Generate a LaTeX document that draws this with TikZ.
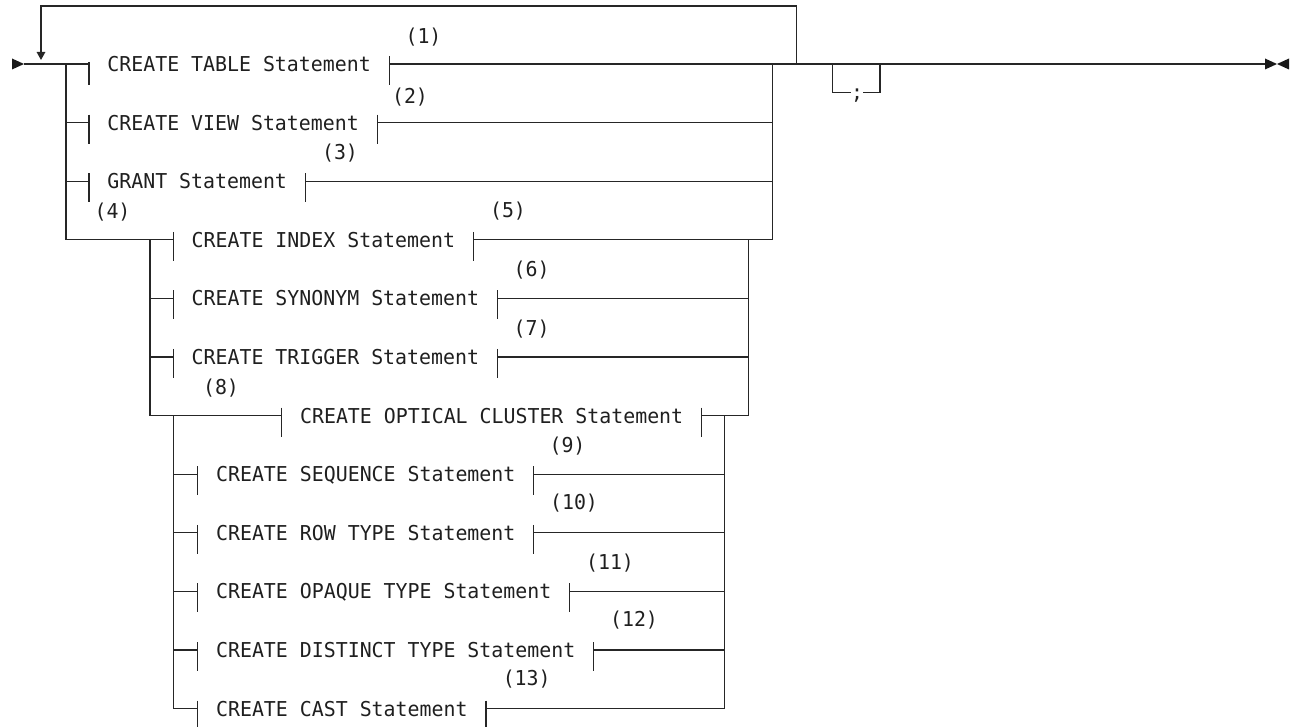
\documentclass[tikz,border=0pt]{standalone}
\usepackage{fontspec}
\newfontfamily\diagmono[FakeStretch=0.97]{DejaVu Sans Mono}
\usetikzlibrary{arrows.meta}
\tikzset{
  rail/.style={draw=black!85, line width=1.3pt},
  frag/.style={font=\diagmono\fontsize{20.5}{22}\selectfont, text=black!88, inner xsep=18.2pt, inner ysep=0pt,
               text height=14.9pt, text depth=0pt, anchor=west},
  note/.style={font=\diagmono\fontsize{20.5}{22}\selectfont, text=black!88, inner sep=0pt,
               text height=14.9pt, text depth=0pt, anchor=center},
  tick/.style={rail},
  tipfill/.style={fill=black!90}
}
\begin{document}
\begin{tikzpicture}[x=1pt,y=-1pt]
\useasboundingbox (0,0) rectangle (1291,727);

% row heights
\def\ra{64}\def\rb{122.6}\def\rc{181.2}\def\rd{239.8}\def\re{298.4}\def\rf{357}
\def\rg{415.6}\def\rh{474.2}\def\ri{532.8}\def\rj{591.4}\def\rk{650}\def\rl{708.6}

% fragment nodes
\node[frag] (f1) at (89,\ra) {CREATE TABLE Statement};
\node[frag] (f2) at (89,\rb) {CREATE VIEW Statement};
\node[frag] (f3) at (89,\rc) {GRANT Statement};
\node[frag] (f4) at (173.3,\rd) {CREATE INDEX Statement};
\node[frag] (f5) at (173.3,\re) {CREATE SYNONYM Statement};
\node[frag] (f6) at (173.3,\rf) {CREATE TRIGGER Statement};
\node[frag] (f7) at (281.7,\rg) {CREATE OPTICAL CLUSTER Statement};
\node[frag] (f8) at (197.7,\rh) {CREATE SEQUENCE Statement};
\node[frag] (f9) at (197.7,\ri) {CREATE ROW TYPE Statement};
\node[frag] (f10) at (197.7,\rj) {CREATE OPAQUE TYPE Statement};
\node[frag] (f11) at (197.7,\rk) {CREATE DISTINCT TYPE Statement};
\node[frag] (f12) at (197.7,\rl) {CREATE CAST Statement};

% footnote labels
\node[note] (n1) at (423.5,36) {(1)};
\node[note] (n2) at (410,96) {(2)};
\node[note] (n3) at (340,152) {(3)};
\node[note] (n4) at (112.5,211) {(4)};
\node[note] (n5) at (508,210) {(5)};
\node[note] (n6) at (531.7,269) {(6)};
\node[note] (n7) at (531.7,328) {(7)};
\node[note] (n8) at (221,387) {(8)};
\node[note] (n9) at (567.5,445) {(9)};
\node[note] (n10) at (574,502.5) {(10)};
\node[note] (n11) at (610,562) {(11)};
\node[note] (n12) at (634,619) {(12)};
\node[note] (n13) at (526.7,678.5) {(13)};

% semicolon
\node[note] (semi) at (857,92.3) {;};

% junction coordinates
\coordinate (start) at (24,\ra);
\coordinate (L1) at (66,\ra);
\coordinate (R1) at (772.3,\ra);
\coordinate (L2) at (150,\rd);
\coordinate (R2) at (748.3,\rd);
\coordinate (L3) at (173.3,\rg);
\coordinate (R3) at (724.3,\rg);
\coordinate (loopR) at (796.7,\ra);
\coordinate (loopTR) at (796.7,6);
\coordinate (loopTL) at (41,6);
\coordinate (loopEnd) at (41,60);
\coordinate (S1) at (832.3,\ra);
\coordinate (S2) at (880,\ra);
\coordinate (endL) at (1265,\ra);

% main line
\draw[rail] (start) -- (f1.west);
\draw[rail] (f1.east) -- (endL);

% repeat loop
\draw[rail,-{Triangle[length=8pt,width=8.5pt]}] (loopR) -- (loopTR) -- (loopTL) -- (loopEnd);

% optional semicolon
\draw[rail] (S1) |- (semi.west);
\draw[rail] (semi.east) -| (S2);

% level 1
\foreach \n in {f2,f3,f4} {
  \draw[rail] (L1) |- (\n.west);
  \draw[rail] (\n.east) -| (R1);
}
% level 2
\foreach \n in {f5,f6,f7} {
  \draw[rail] (L2) |- (\n.west);
  \draw[rail] (\n.east) -| (R2);
}
% level 3
\foreach \n in {f8,f9,f10,f11,f12} {
  \draw[rail] (L3) |- (\n.west);
  \draw[rail] (\n.east) -| (R3);
}

% fragment ticks
\draw[tick] (f1.west) ++(0,-2) -- ++(0,23);
\draw[tick] (f1.east) ++(0,-8) -- ++(0,29);
\foreach \n in {f2,f3,f4,f5,f6,f7,f8,f9,f10,f11,f12} {
  \draw[tick] (\n.west) ++(0,-8) -- ++(0,29);
  \draw[tick] (\n.east) ++(0,-8) -- ++(0,29);
}

% start and end markers
\fill[tipfill] (12,58.5) -- (start) -- (12,69.5) -- cycle;
\fill[tipfill] (1265,58.5) -- (1277,\ra) -- (1265,69.5) -- cycle;
\fill[tipfill] (1289,58.5) -- (1277,\ra) -- (1289,69.5) -- cycle;
\end{tikzpicture}
\end{document}
